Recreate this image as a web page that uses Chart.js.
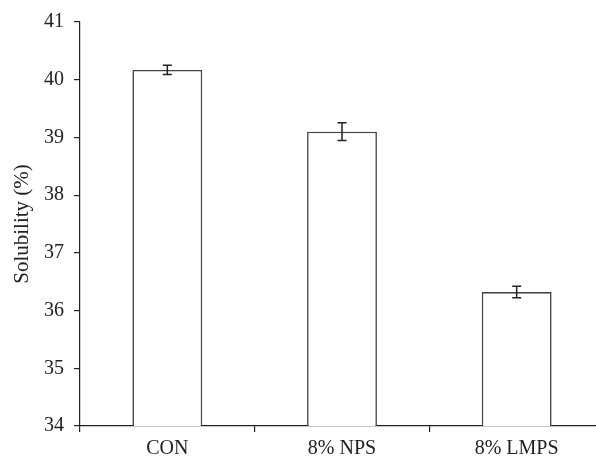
<!DOCTYPE html>
<html>
<head>
<meta charset="utf-8">
<script src="https://cdn.jsdelivr.net/npm/chart.js@4/dist/chart.umd.min.js"></script>
<style>
  html, body { margin: 0; padding: 0; background: #fff; overflow: hidden; }
  #wrap { width: 605px; height: 460px; }
</style>
</head>
<body>
<div id="wrap"><canvas id="c" width="605" height="460"></canvas></div>
<script>
const categories = ["CON", "8% NPS", "8% LMPS"];
const solubility = [40.17, 39.10, 36.32];
const errors = [0.08, 0.155, 0.10];
const yMin = 34, yMax = 41, yStep = 1;
const yTitle = "Solubility (%)";

const FONT = "'Liberation Serif', 'Times New Roman', serif";

const errorBarPlugin = {
  id: 'errorBars',
  afterDatasetsDraw(chart) {
    const ctx = chart.ctx;
    const meta = chart.getDatasetMeta(0);
    const yScale = chart.scales.y;
    ctx.save();
    ctx.strokeStyle = '#222';
    ctx.lineWidth = 1.5;
    meta.data.forEach((bar, i) => {
      const x = bar.x;
      const yHi = yScale.getPixelForValue(solubility[i] + errors[i]);
      const yLo = yScale.getPixelForValue(solubility[i] - errors[i]);
      const cap = 4.5;
      ctx.beginPath();
      ctx.moveTo(x, yHi); ctx.lineTo(x, yLo);
      ctx.moveTo(x - cap, yHi); ctx.lineTo(x + cap, yHi);
      ctx.moveTo(x - cap, yLo); ctx.lineTo(x + cap, yLo);
      ctx.stroke();
    });
    ctx.restore();
  }
};

new Chart(document.getElementById('c'), {
  type: 'bar',
  data: {
    labels: categories,
    datasets: [{
      data: solubility,
      backgroundColor: '#ffffff',
      borderColor: '#444444',
      borderWidth: 1.6,
      borderSkipped: false,
      barPercentage: 0.4,
      categoryPercentage: 1.0
    }]
  },
  options: {
    responsive: false,
    animation: false,
    devicePixelRatio: 1,
    layout: { padding: { top: 20, right: 1, left: 0, bottom: 0 } },
    plugins: { legend: { display: false }, tooltip: { enabled: false } },
    scales: {
      x: {
        offset: true,
        grid: { display: true, offset: true, drawOnChartArea: false, drawTicks: true, tickLength: 6, color: '#222', lineWidth: 1.2 },
        border: { display: true, color: '#222', width: 1.2 },
        ticks: { font: { family: FONT, size: 20 }, color: '#222', padding: 5, maxRotation: 0 },
        afterFit(scale) { scale.height = 34; }
      },
      y: {
        min: yMin, max: yMax,
        grid: { display: true, drawOnChartArea: false, drawTicks: true, tickLength: 6, color: '#222', lineWidth: 1.2 },
        border: { display: true, color: '#222', width: 1.2 },
        ticks: { stepSize: yStep, font: { family: FONT, size: 20 }, color: '#222', padding: 10 },
        title: { display: true, text: yTitle, font: { family: FONT, size: 21 }, color: '#222', padding: { top: 10, bottom: 0 } },
        afterFit(scale) { scale.width = 80; }
      }
    }
  },
  plugins: [errorBarPlugin]
});
</script>
</body>
</html>
